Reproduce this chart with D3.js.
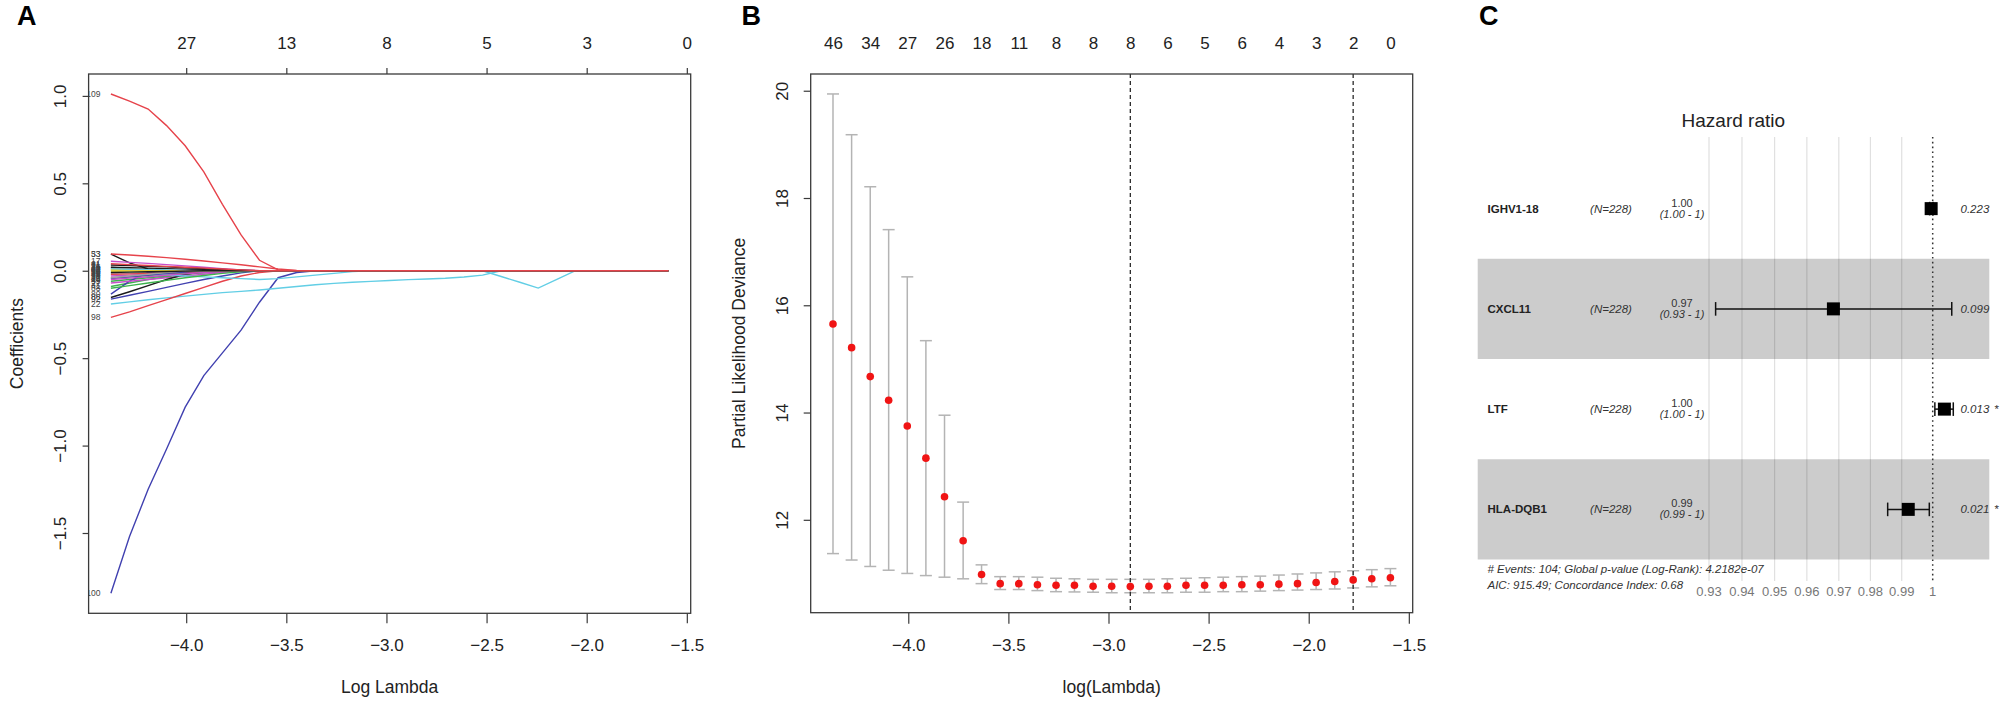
<!DOCTYPE html>
<html>
<head>
<meta charset="utf-8">
<script src="https://cdn.jsdelivr.net/npm/d3@7"></script>
<style>
  body { margin: 0; background: #fff; }
  text { font-family: "Liberation Sans", Arial, Helvetica, sans-serif; }
</style>
</head>
<body>
<div id="chart"></div>
<script>
// ---- data: panel A / B share the lambda path ----
const logLambda = [-4.376, -4.283, -4.190, -4.098, -4.005, -3.912, -3.819, -3.726, -3.634, -3.541,
  -3.448, -3.355, -3.262, -3.170, -3.077, -2.984, -2.891, -2.798, -2.706, -2.613,
  -2.520, -2.427, -2.334, -2.242, -2.149, -2.056, -1.963, -1.870, -1.778, -1.685, -1.592];

// coefficient paths (values until the coefficient stays at zero)
const coefLabels = ['53', '109', '41', '100', '22', '17', '62', '35', '71', '98', '55', '80', '12', '27',
  '64', '38', '86', '33', '47', '92', '19', '58', '66', '31', '75', '44', '88', '25', '69', '14', '77', '39', '50', '61'];
const coefPaths = [
  [0.095, 0.045, 0.010],
  [1.011, 0.970, 0.925, 0.830, 0.715, 0.565, 0.380, 0.205, 0.060, 0.005],
  [-0.090, -0.070, -0.050, -0.035, -0.020, -0.010, -0.004],
  [-1.845, -1.520, -1.250, -1.020, -0.780, -0.600, -0.470, -0.340, -0.180, -0.040, -0.010],
  [-0.190, -0.178, -0.166, -0.155, -0.145, -0.135, -0.125, -0.118, -0.110, -0.100, -0.090, -0.080,
   -0.072, -0.066, -0.061, -0.056, -0.051, -0.047, -0.043, -0.036, -0.025],
  [0.054, 0.048, 0.042, 0.035, 0.028, 0.020, 0.012, 0.005],
  [0.010, 0.006, 0.002],
  [-0.020, -0.015, -0.010, -0.005],
  [0.033, 0.030, 0.026, 0.022, 0.017, 0.012, 0.007, 0.003],
  [-0.267, -0.235, -0.200, -0.165, -0.130, -0.095, -0.060, -0.030, -0.010],
  [-0.060, -0.050, -0.040, -0.030, -0.020, -0.012, -0.005],
  [-0.134, -0.060, -0.010],
  [0, 0, 0, 0, 0, 0, 0, 0, 0, 0, 0, 0, 0, 0, 0, 0, 0, 0, 0, 0, 0, -0.033, -0.066, -0.099, -0.050],
  [-0.070, -0.060, -0.050, -0.040, -0.030, -0.020, -0.010],
  [0.005],
  [0.015, 0.010, 0.005],
  [-0.153, -0.120, -0.085, -0.050, -0.020, -0.005],
  [0.096, 0.090, 0.083, 0.075, 0.066, 0.056, 0.045, 0.034, 0.022, 0.010, 0.002],
  [-0.040, -0.034, -0.027, -0.020, -0.013, -0.006],
  [-0.162, -0.140, -0.118, -0.095, -0.072, -0.050, -0.030, -0.012],
  [-0.010, -0.015, -0.020, -0.025, -0.030, -0.035, -0.040, -0.045, -0.050, -0.045, -0.035, -0.025, -0.015, -0.005],
  [-0.030, -0.025, -0.020, -0.014, -0.008, -0.003],
  [-0.005],
  [0.020, 0.012, 0.005],
  [0.020, 0.018, 0.015, 0.012, 0.009, 0.006, 0.003],
  [-0.020, -0.018, -0.015, -0.012, -0.009, -0.006, -0.003],
  [-0.100, -0.085, -0.070, -0.055, -0.040, -0.027, -0.015, -0.006],
  [-0.045, -0.035, -0.025, -0.015, -0.007],
  [0.010, 0.008, 0.006, 0.004, 0.002],
  [-0.050, -0.042, -0.034, -0.026, -0.018, -0.010, -0.004],
  [0.003],
  [-0.040, -0.030, -0.020, -0.010],
  [-0.010, -0.008, -0.006, -0.004, -0.002],
  [0.040, 0.035, 0.030, 0.025, 0.020, 0.015, 0.010, 0.005]
];
const dfTopA = [27, 13, 8, 5, 3, 0];
const dfTopATicks = [-4.0, -3.5, -3.0, -2.5, -2.0, -1.5];
const coefTicks = [-1.5, -1.0, -0.5, 0.0, 0.5, 1.0];

// cross-validation (panel B)
const cvMean = [15.65, 15.21, 14.67, 14.23, 13.75, 13.15, 12.43, 11.61, 10.98, 10.81,
  10.81, 10.79, 10.78, 10.78, 10.76, 10.76, 10.755, 10.76, 10.76, 10.78,
  10.78, 10.78, 10.79, 10.79, 10.80, 10.81, 10.83, 10.85, 10.88, 10.90, 10.92];
const cvUpper = [19.94, 19.18, 18.21, 17.41, 16.53, 15.34, 13.95, 12.33, 11.16, 10.94,
  10.94, 10.93, 10.91, 10.90, 10.89, 10.89, 10.89, 10.89, 10.90, 10.91,
  10.92, 10.93, 10.94, 10.95, 10.97, 10.99, 11.01, 11.03, 11.05, 11.07, 11.09];
const cvLower = [11.37, 11.25, 11.13, 11.06, 11.00, 10.96, 10.93, 10.90, 10.81, 10.70,
  10.70, 10.68, 10.66, 10.655, 10.65, 10.64, 10.64, 10.64, 10.64, 10.65,
  10.65, 10.66, 10.66, 10.67, 10.68, 10.69, 10.70, 10.71, 10.73, 10.75, 10.77];
const dfTopB = [46, 34, 27, 26, 18, 11, 8, 8, 8, 6, 5, 6, 4, 3, 2, 0];
const devianceTicks = [12, 14, 16, 18, 20];
const lambdaTicks = [-4.0, -3.5, -3.0, -2.5, -2.0, -1.5];
const lambdaMin = -2.891;
const lambda1se = -1.778;

// multivariate Cox model (panel C)
const genes = ['IGHV1-18', 'CXCL11', 'LTF', 'HLA-DQB1'];
const nPatients = [228, 228, 228, 228];
const hazard = [0.9995, 0.9683, 1.0038, 0.9921];
const hazardLow = [0.9990, 0.9320, 1.0007, 0.9855];
const hazardHigh = [1.0001, 1.0062, 1.0067, 0.9989];
const hazardText = ['1.00', '0.97', '1.00', '0.99'];
const ciText = ['(1.00 - 1)', '(0.93 - 1)', '(1.00 - 1)', '(0.99 - 1)'];
const pValues = ['0.223', '0.099', '0.013', '0.021'];
const pStars = ['', '', '*', '*'];
const hazardTicks = [0.93, 0.94, 0.95, 0.96, 0.97, 0.98, 0.99, 1];
const nEvents = 104;
const globalP = '4.2182e-07';
const aic = 915.49;
const cIndex = 0.68;

// ---- drawing ----
const width = 2012, height = 704;
const palette = ['#1c1c1c', '#e6434b', '#3db44d', '#4141b0', '#62cee5', '#c64fca', '#e2cf3c', '#a0a0a0'];
const axisCol = '#3a3a3a';

const svg = d3.select('#chart').append('svg')
  .attr('width', width)
  .attr('height', height)
  .style('background', '#fff');

// panel letters
[['A', 17], ['B', 741.5], ['C', 1479]].forEach(([t, x]) => {
  svg.append('text').attr('x', x).attr('y', 25)
    .style('font-size', '27px').style('font-weight', 'bold').text(t);
});

function styleAxis(g) {
  g.select('.domain').remove();
  g.attr('font-size', null).attr('font-family', null);
  g.selectAll('line').attr('stroke', axisCol).attr('stroke-width', 1.2);
  g.selectAll('text').attr('fill', '#222').style('font-size', '17px');
}

function rotateLeftLabels(g) {
  g.selectAll('text')
    .attr('transform', 'rotate(-90)')
    .attr('x', 0).attr('y', -23).attr('dy', null)
    .attr('text-anchor', 'middle');
}

const fmt1 = d3.format('.1f');
const pad = (lo, hi) => { const p = (hi - lo) * 0.04; return [lo - p, hi + p]; };
const lamDomain = pad(d3.min(logLambda), d3.max(logLambda));

// ---------- Panel A: coefficient paths ----------
const boxA = { x0: 88.6, x1: 690.7, y0: 74, y1: 613.3 };
const xA = d3.scaleLinear().domain(lamDomain).range([boxA.x0, boxA.x1]);
const allCoef = coefPaths.flat();
const yA = d3.scaleLinear().domain(pad(d3.min(allCoef), d3.max(allCoef))).range([boxA.y1, boxA.y0]);

svg.append('clipPath').attr('id', 'clipA').append('rect')
  .attr('x', boxA.x0).attr('y', boxA.y0)
  .attr('width', boxA.x1 - boxA.x0).attr('height', boxA.y1 - boxA.y0);

const gA = svg.append('g').attr('clip-path', 'url(#clipA)');
const lineA = d3.line().x((d, i) => xA(logLambda[i])).y(d => yA(d));

coefPaths.forEach((p, k) => {
  const full = logLambda.map((_, i) => (i < p.length ? p[i] : 0));
  gA.append('path')
    .attr('d', lineA(full))
    .attr('fill', 'none')
    .attr('stroke', palette[k % palette.length])
    .attr('stroke-width', 1.4);
});

// variable numbers at the left end, clipped by the plot box as in R
coefPaths.forEach((p, k) => {
  gA.append('text')
    .attr('x', xA(logLambda[0]) - 10.5)
    .attr('y', yA(p[0]) + 3)
    .attr('text-anchor', 'end')
    .attr('fill', '#444')
    .style('font-size', '8.5px')
    .text(coefLabels[k]);
});

svg.append('rect')
  .attr('x', boxA.x0).attr('y', boxA.y0)
  .attr('width', boxA.x1 - boxA.x0).attr('height', boxA.y1 - boxA.y0)
  .attr('fill', 'none').attr('stroke', axisCol).attr('stroke-width', 1.3);

svg.append('g').attr('transform', `translate(0,${boxA.y1})`)
  .call(d3.axisBottom(xA).tickValues(lambdaTicks).tickSize(10).tickFormat(fmt1))
  .call(styleAxis)
  .call(g => g.selectAll('text').attr('y', 38).attr('dy', null));

svg.append('g').attr('transform', `translate(0,${boxA.y0})`)
  .call(d3.axisTop(xA).tickValues(dfTopATicks).tickSize(6).tickFormat((d, i) => dfTopA[i]))
  .call(styleAxis)
  .call(g => g.selectAll('text').attr('y', -24.7).attr('dy', null));

svg.append('g').attr('transform', `translate(${boxA.x0},0)`)
  .call(d3.axisLeft(yA).tickValues(coefTicks).tickSize(6).tickFormat(fmt1))
  .call(styleAxis)
  .call(rotateLeftLabels);

svg.append('text')
  .attr('x', (boxA.x0 + boxA.x1) / 2).attr('y', 693)
  .attr('text-anchor', 'middle').style('font-size', '17.5px').attr('fill', '#222')
  .text('Log Lambda');
svg.append('text')
  .attr('transform', `translate(23,${(boxA.y0 + boxA.y1) / 2}) rotate(-90)`)
  .attr('text-anchor', 'middle').style('font-size', '17.5px').attr('fill', '#222')
  .text('Coefficients');

// ---------- Panel B: cross-validation curve ----------
const boxB = { x0: 810.7, x1: 1412.7, y0: 74, y1: 612.7 };
const xB = d3.scaleLinear().domain(lamDomain).range([boxB.x0, boxB.x1]);
const yB = d3.scaleLinear()
  .domain(pad(d3.min(cvLower), d3.max(cvUpper)))
  .range([boxB.y1, boxB.y0]);

const gB = svg.append('g');
const barCol = '#b4b4b4';
logLambda.forEach((l, i) => {
  const x = xB(l);
  gB.append('line').attr('x1', x).attr('x2', x)
    .attr('y1', yB(cvLower[i])).attr('y2', yB(cvUpper[i]))
    .attr('stroke', barCol).attr('stroke-width', 1.5);
  [cvLower[i], cvUpper[i]].forEach(v => {
    gB.append('line').attr('x1', x - 6).attr('x2', x + 6)
      .attr('y1', yB(v)).attr('y2', yB(v))
      .attr('stroke', barCol).attr('stroke-width', 1.5);
  });
});

[lambdaMin, lambda1se].forEach(l => {
  gB.append('line').attr('x1', xB(l)).attr('x2', xB(l))
    .attr('y1', boxB.y0).attr('y2', boxB.y1)
    .attr('stroke', '#2a2a2a').attr('stroke-width', 1.3)
    .attr('stroke-dasharray', '4,3');
});

gB.selectAll('circle').data(cvMean).enter().append('circle')
  .attr('cx', (d, i) => xB(logLambda[i]))
  .attr('cy', d => yB(d))
  .attr('r', 3.8)
  .attr('fill', '#f01414');

svg.append('rect')
  .attr('x', boxB.x0).attr('y', boxB.y0)
  .attr('width', boxB.x1 - boxB.x0).attr('height', boxB.y1 - boxB.y0)
  .attr('fill', 'none').attr('stroke', axisCol).attr('stroke-width', 1.3);

svg.append('g').attr('transform', `translate(0,${boxB.y1})`)
  .call(d3.axisBottom(xB).tickValues(lambdaTicks).tickSize(11).tickFormat(fmt1))
  .call(styleAxis)
  .call(g => g.selectAll('text').attr('y', 38).attr('dy', null));

const topLam = logLambda.filter((d, i) => i % 2 === 0);
svg.append('g').attr('transform', `translate(0,${boxB.y0})`)
  .call(d3.axisTop(xB).tickValues(topLam).tickSize(0).tickFormat((d, i) => dfTopB[i]))
  .call(styleAxis)
  .call(g => g.selectAll('text').attr('y', -24.7).attr('dy', null));

svg.append('g').attr('transform', `translate(${boxB.x0},0)`)
  .call(d3.axisLeft(yB).tickValues(devianceTicks).tickSize(7))
  .call(styleAxis)
  .call(rotateLeftLabels);

svg.append('text')
  .attr('x', (boxB.x0 + boxB.x1) / 2).attr('y', 693)
  .attr('text-anchor', 'middle').style('font-size', '17.5px').attr('fill', '#222')
  .text('log(Lambda)');
svg.append('text')
  .attr('transform', `translate(745,${(boxB.y0 + boxB.y1) / 2}) rotate(-90)`)
  .attr('text-anchor', 'middle').style('font-size', '17.5px').attr('fill', '#222')
  .text('Partial Likelihood Deviance');

// ---------- Panel C: forest plot ----------
const xC = d3.scaleLog().domain([0.93, 1]).range([1709, 1932.7]);
const yC = d3.scaleBand().domain(genes).range([158.5, 559.5]);
const bandX0 = 1477.7, bandX1 = 1989.3;
const gridTop = 137, gridBottom = 581;
const gC = svg.append('g');

hazardTicks.forEach(t => {
  if (t === 1) return;
  gC.append('line').attr('x1', xC(t)).attr('x2', xC(t))
    .attr('y1', gridTop).attr('y2', gridBottom)
    .attr('stroke', '#e0e0e0').attr('stroke-width', 1.2);
});

genes.forEach((g, i) => {
  if (i % 2 === 1) {
    gC.append('rect')
      .attr('x', bandX0).attr('y', yC(g))
      .attr('width', bandX1 - bandX0).attr('height', yC.bandwidth())
      .attr('fill', '#000').attr('fill-opacity', 0.2);
  }
});

gC.append('line').attr('x1', xC(1)).attr('x2', xC(1))
  .attr('y1', gridTop).attr('y2', gridBottom)
  .attr('stroke', '#333').attr('stroke-width', 1.5)
  .attr('stroke-dasharray', '1.6,3.2');

genes.forEach((g, i) => {
  const cy = yC(g) + yC.bandwidth() / 2;
  const x0 = xC(hazardLow[i]), x1 = xC(hazardHigh[i]);
  gC.append('line').attr('x1', x0).attr('x2', x1).attr('y1', cy).attr('y2', cy)
    .attr('stroke', '#111').attr('stroke-width', 1.5);
  [x0, x1].forEach(x => {
    gC.append('line').attr('x1', x).attr('x2', x).attr('y1', cy - 6.8).attr('y2', cy + 6.8)
      .attr('stroke', '#111').attr('stroke-width', 1.5);
  });
  gC.append('rect')
    .attr('x', xC(hazard[i]) - 6.5).attr('y', cy - 6.5)
    .attr('width', 13).attr('height', 13)
    .attr('fill', '#000');

  gC.append('text').attr('x', 1487.5).attr('y', cy + 4)
    .style('font-size', '11.5px').style('font-weight', 'bold').attr('fill', '#222')
    .text(g);
  gC.append('text').attr('x', 1611).attr('y', cy + 4).attr('text-anchor', 'middle')
    .style('font-size', '11.5px').style('font-style', 'italic').attr('fill', '#333')
    .text(`(N=${nPatients[i]})`);
  gC.append('text').attr('x', 1682).attr('y', cy - 2).attr('text-anchor', 'middle')
    .style('font-size', '11px').attr('fill', '#333')
    .text(hazardText[i]);
  gC.append('text').attr('x', 1682).attr('y', cy + 9).attr('text-anchor', 'middle')
    .style('font-size', '11px').style('font-style', 'italic').attr('fill', '#333')
    .text(ciText[i]);
  gC.append('text').attr('x', bandX1).attr('y', cy + 4).attr('text-anchor', 'end')
    .style('font-size', '11.5px').style('font-style', 'italic').attr('fill', '#333')
    .text(pValues[i]);
  if (pStars[i]) {
    gC.append('text').attr('x', 1994).attr('y', cy + 4)
      .style('font-size', '11.5px').style('font-style', 'italic').attr('fill', '#333')
      .text(pStars[i]);
  }
});

svg.append('text').attr('x', 1733.3).attr('y', 126.5).attr('text-anchor', 'middle')
  .style('font-size', '19px').attr('fill', '#222').text('Hazard ratio');

hazardTicks.forEach(t => {
  gC.append('text').attr('x', xC(t)).attr('y', 596).attr('text-anchor', 'middle')
    .style('font-size', '13px').attr('fill', '#777')
    .text(t === 1 ? '1' : d3.format('.2f')(t));
});

gC.append('text').attr('x', 1487.5).attr('y', 573)
  .style('font-size', '11.5px').style('font-style', 'italic').attr('fill', '#333')
  .text(`# Events: ${nEvents}; Global p-value (Log-Rank): ${globalP}`);
gC.append('text').attr('x', 1487.5).attr('y', 589)
  .style('font-size', '11.5px').style('font-style', 'italic').attr('fill', '#333')
  .text(`AIC: ${aic}; Concordance Index: ${cIndex}`);
</script>
</body>
</html>
